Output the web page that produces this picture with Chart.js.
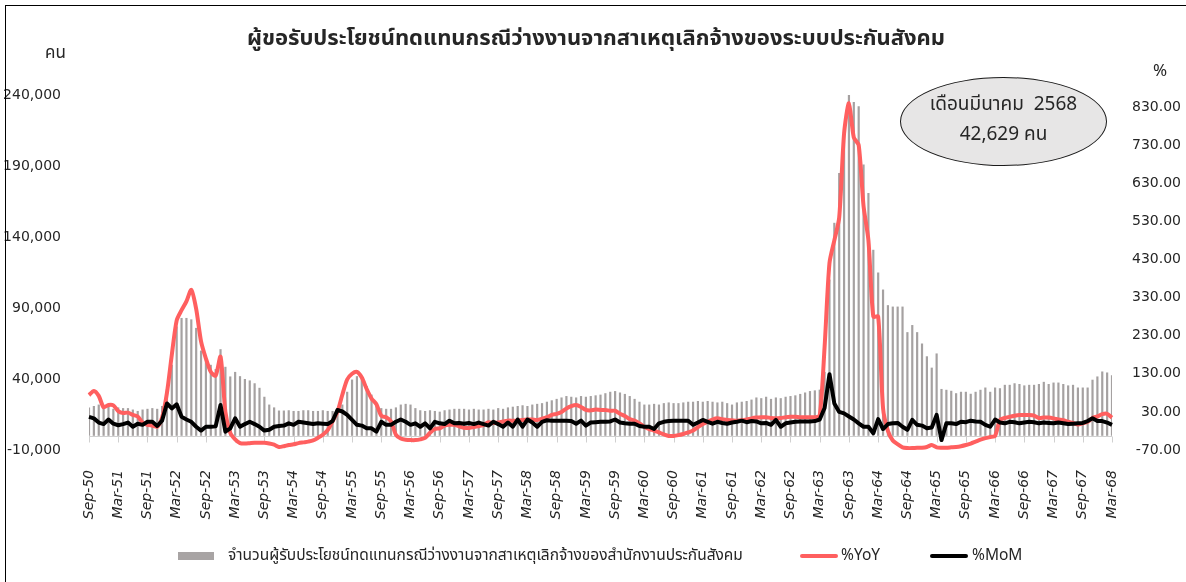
<!DOCTYPE html>
<html>
<head>
<meta charset="utf-8">
<script src="https://cdn.jsdelivr.net/npm/chart.js@4.4.1/dist/chart.umd.min.js"></script>
<style>
  html, body { margin: 0; padding: 0; background: #fff; }
  #wrap { position: relative; width: 1186px; height: 582px; overflow: hidden; font-family: "Noto Sans Thai", Tahoma, "DejaVu Sans", sans-serif; color: #262626; }
  #chart { position: absolute; left: 0; top: 0; }
  .frame { position: absolute; left: 5px; top: 5px; width: 1200px; height: 600px; border-left: 1px solid #000; border-top: 1px solid #000; }
  #title { position: absolute; left: 0; width: 1192px; top: 22px; text-align: center; font-size: 22px; font-weight: bold; white-space: nowrap; }
  .unit { position: absolute; font-size: 17px; }
  #bubble { position: absolute; left: 900px; top: 77px; width: 207px; height: 89px; border: 1.5px solid #1a1a1a; border-radius: 50%; background: #e7e6e6; text-align: center; font-size: 19px; line-height: 30px; box-sizing: border-box; padding-top: 12px; white-space: pre; }
  .legend { position: absolute; top: 546px; font-size: 15.5px; white-space: nowrap; line-height: 20px; }
  .sw { position: absolute; }
</style>
</head>
<body>
<div id="wrap">
  <canvas id="chart" width="1186" height="582"></canvas>
  <div class="frame"></div>
  <div id="title">ผู้ขอรับประโยชน์ทดแทนกรณีว่างงานจากสาเหตุเลิกจ้างของระบบประกันสังคม</div>
  <div class="unit" style="left:45px; top:40px;">คน</div>
  <div class="unit" style="left:1153px; top:58px;">%</div>
  <div id="bubble">เดือนมีนาคม  2568
42,629 คน</div>
  <div class="sw" style="left:178px; top:552px; width:36px; height:8px; background:#a8a4a4;"></div>
  <div class="legend" style="left:228px;">จำนวนผู้รับประโยชน์ทดแทนกรณีว่างงานจากสาเหตุเลิกจ้างของสำนักงานประกันสังคม</div>
  <div class="sw" style="left:800px; top:554px; width:38px; height:4px; background:#ff5f5f; border-radius:2px;"></div>
  <div class="legend" style="left:841px;">%YoY</div>
  <div class="sw" style="left:930px; top:554px; width:38px; height:4px; background:#000; border-radius:2px;"></div>
  <div class="legend" style="left:972px;">%MoM</div>
</div>
<script>
// months from Sep-50 (2007) to Mar-68 (2025), Thai short years
const monthNames = ["Jan", "Feb", "Mar", "Apr", "May", "Jun", "Jul", "Aug", "Sep", "Oct", "Nov", "Dec"];
const startMonth = 8;   // Sep
const startYear = 50;
const monthCount = 211;

const labels = [];
for (let i = 0; i < monthCount; i++) {
  const m = (startMonth + i) % 12;
  const y = startYear + Math.floor((startMonth + i) / 12);
  labels.push(monthNames[m] + "-" + y);
}

// claimants (persons)
const claims = [
  20000, 21000, 22000, 19500, 21000, 19000, 20000, 19500, 19500, 18500, 17500, 18500,
  19000, 19500, 19000, 21000, 33000, 50000, 77000, 83000, 83000, 82000, 76000, 60000,
  55000, 50000, 47000, 61000, 48600, 41800, 45000, 42000, 40000, 39000, 37000, 33800,
  27500, 22000, 20000, 17800, 17800, 18000, 17500, 17500, 18000, 18000, 17500, 17500,
  18000, 17500, 17500, 18500, 22000, 31000, 39600, 42000, 41000, 35000, 29000, 23000,
  19500, 19000, 19000, 20000, 22000, 22500, 22000, 19500, 18000, 17500, 18000, 17500,
  17000, 18000, 18500, 19000, 19000, 19000, 18500, 19000, 18500, 18500, 19000, 18500,
  19500, 19000, 20000, 20500, 21000, 21500, 21000, 22000, 22500, 23000, 24000, 25000,
  26000, 27000, 28000, 27500, 27000, 28000, 27500, 28000, 28500, 29000, 30000, 31000,
  31500, 30500, 29500, 28000, 26000, 24000, 22000, 22000, 22500, 22000, 23000, 23500,
  23000, 23000, 23500, 24000, 24000, 24500, 24000, 24500, 24000, 23500, 24000, 23000,
  22000, 23500, 24000, 24500, 25500, 27000, 26500, 27500, 26000, 27000, 26500, 27500,
  28000, 28500, 29500, 30500, 31500, 32000, 32500, 45000, 110000, 150000, 185000, 215000,
  244000, 235000, 232000, 191000, 171000, 131000, 115000, 103000, 92000, 91000, 91000, 91000,
  73000, 78000, 73000, 65000, 56000, 48000, 58000, 33000, 32400, 31700, 30000, 31000,
  31000, 29600, 31000, 32400, 34000, 31000, 34000, 33500, 35900, 35900, 37000, 36500,
  35500, 35900, 35900, 36500, 38000, 36500, 37500, 37500, 36500, 35500, 35900, 34000,
  34000, 34000, 39500, 41800, 45300, 44600, 42629
];

// %YoY
const yoy = [
  74, 85, 72, 42, 48, 47, 32, 27, 28, 22, 18, 2,
  -4, -6, -9, 15, 80, 180, 270, 297, 320, 350, 300, 215,
  170, 135, 125, 175, 30, -25, -42, -52, -53, -52, -51, -51,
  -51, -53, -56, -62, -60, -57, -55, -52, -50, -48, -45, -38,
  -30, -18, 5, 30, 75, 115, 130, 135, 120, 90, 65, 50,
  20, 16, 5, -30, -40, -43, -44, -44, -42, -38, -25, -15,
  -13, -6, -4, -4, -8, -12, -12, -10, -7, -4, 3, 1,
  2, 5, 7, 7, 7, 9, 10, 10, 9, 12, 16, 22,
  25, 30, 39, 45, 48, 43, 35, 34, 36, 35, 35, 33,
  33, 25, 19, 11, 7, 0, -9, -15, -19, -24, -29, -33,
  -33, -31, -28, -24, -19, -10, -2, 4, 10, 13, 11, 9,
  8, 7, 8, 10, 13, 15, 16, 16, 14, 13, 14, 16,
  17, 17, 16, 16, 16, 16, 20, 200, 420, 480, 540, 760,
  840, 750, 730, 570, 480, 280, 280, 40, -20, -45, -55, -63,
  -65, -65, -64, -64, -62, -57, -63, -64, -64, -63, -62, -60,
  -57, -53, -48, -43, -39, -36, -33, 9, 14, 17, 20, 22,
  22, 22, 20, 14, 15, 15, 13, 10, 8, 4, 1, -3,
  0, 4, 14, 18, 24, 25, 15
];

// %MoM
const mom = [
  17, 13, 2, -2, 10, -1, -5, -2, 2, -9, -1, -4,
  4, 4, -7, 7, 52, 39, 50, 17, 10, 4, -9, -19,
  -9, -9, -8, 48, -22, -13, 13, -9, -2, 4, -2, -9,
  -19, -17, -9, -7, -6, 0, -4, 4, 2, 0, -2, 0,
  -1, -2, 6, 35, 31, 22, 9, -4, -6, -13, -13, -22,
  4, -4, -4, 4, 10, 4, -4, 0, -9, 0, -13, 4,
  0, -2, 7, 0, 1, -1, 1, -2, 2, -2, -6, 4,
  -2, -9, 2, -9, 10, -9, 10, 2, -9, 4, 8, 7,
  7, 7, 7, 6, -1, 7, -6, 2, 3, 4, 4, 5,
  10, 2, 0, -1, -1, -7, -9, -9, -15, 0, 4, 6,
  7, 7, 7, 7, -4, 2, 9, 4, -1, 4, 1, -1,
  2, 4, 7, 3, 6, 5, 0, 1, -4, 9, -9, 0,
  2, 4, 5, 5, 5, 6, 10, 40, 129, 52, 30, 26,
  18, 10, 0, -9, -9, -26, 11, -15, -2, 0, 1, -9,
  -17, 9, -4, -6, -13, -11, 22, -44, 0, 0, -2, 4,
  3, 7, 5, 4, -4, -9, 10, 2, 0, 4, 3, 0,
  2, 4, 3, 0, 2, 1, 0, 2, 0, -2, -1, 0,
  1, 6, 13, 6, 6, 2, -4
];

const leftTicks = [-10000, 40000, 90000, 140000, 190000, 240000];
const rightTicks = [-70, 30, 130, 230, 330, 430, 530, 630, 730, 830];

// gray axis line at zero with a tick every 6 months (like the Excel axis)
const zeroAxis = {
  id: "zeroAxis",
  beforeDatasetsDraw(chart) {
    const { ctx, chartArea, scales } = chart;
    const y0 = Math.round(scales.y.getPixelForValue(0)) + 0.5;
    ctx.save();
    ctx.strokeStyle = "#d0d0d0";
    ctx.lineWidth = 1;
    ctx.beginPath();
    ctx.moveTo(chartArea.left, y0);
    ctx.lineTo(chartArea.right, y0);
    scales.x.ticks.forEach((t, i) => {
      const x = Math.round(scales.x.getPixelForTick(i)) + 0.5;
      ctx.moveTo(x, y0);
      ctx.lineTo(x, y0 + 6);
    });
    ctx.stroke();
    ctx.restore();
  }
};

Chart.defaults.font.family = "'DejaVu Sans', sans-serif";
Chart.defaults.color = "#333";

new Chart(document.getElementById("chart"), {
  type: "bar",
  data: {
    labels: labels,
    datasets: [
      {
        type: "line",
        label: "%MoM",
        data: mom,
        yAxisID: "y1",
        borderColor: "#000",
        borderWidth: 4,
        pointRadius: 0,
        tension: 0,
        borderJoinStyle: "round",
        order: 1
      },
      {
        type: "line",
        label: "%YoY",
        data: yoy,
        yAxisID: "y1",
        borderColor: "#ff5f5f",
        borderWidth: 4,
        pointRadius: 0,
        tension: 0.25,
        borderJoinStyle: "round",
        order: 2
      },
      {
        label: "จำนวนผู้รับประโยชน์ทดแทนกรณีว่างงานจากสาเหตุเลิกจ้างของสำนักงานประกันสังคม",
        data: claims,
        yAxisID: "y",
        backgroundColor: "#a5a1a1",
        barPercentage: 0.45,
        categoryPercentage: 1,
        order: 3
      }
    ]
  },
  options: {
    responsive: false,
    animation: false,
    layout: { padding: { top: 95, left: 0, right: 5, bottom: 0 } },
    plugins: {
      legend: { display: false },
      tooltip: { enabled: false }
    },
    scales: {
      x: {
        offset: false,
        grid: { display: false },
        border: { display: false },
        ticks: {
          autoSkip: false,
          minRotation: 90,
          maxRotation: 90,
          padding: 12,
          color: "#262626",
          font: { size: 14, style: "italic" }
        },
        afterBuildTicks: s => { s.ticks = s.ticks.filter(t => t.value % 6 === 0); },
        afterFit: s => { s.height = 132; }
      },
      y: {
        position: "left",
        min: -10000,
        max: 240000,
        grid: { display: false },
        border: { display: false },
        ticks: {
          padding: 20,
          color: "#262626",
          font: { size: 14 },
          callback: v => v.toLocaleString("en-US")
        },
        afterBuildTicks: s => { s.ticks = leftTicks.map(v => ({ value: v })); },
        afterFit: s => { s.width = 89; }
      },
      y1: {
        position: "right",
        min: -70,
        max: 861.5,
        grid: { display: false },
        border: { display: false },
        ticks: {
          padding: 15,
          crossAlign: "far",
          color: "#262626",
          font: { size: 14 },
          callback: v => v.toFixed(2)
        },
        afterBuildTicks: s => { s.ticks = rightTicks.map(v => ({ value: v })); },
        afterFit: s => { s.width = 69; }
      }
    }
  },
  plugins: [zeroAxis]
});
</script>
</body>
</html>
